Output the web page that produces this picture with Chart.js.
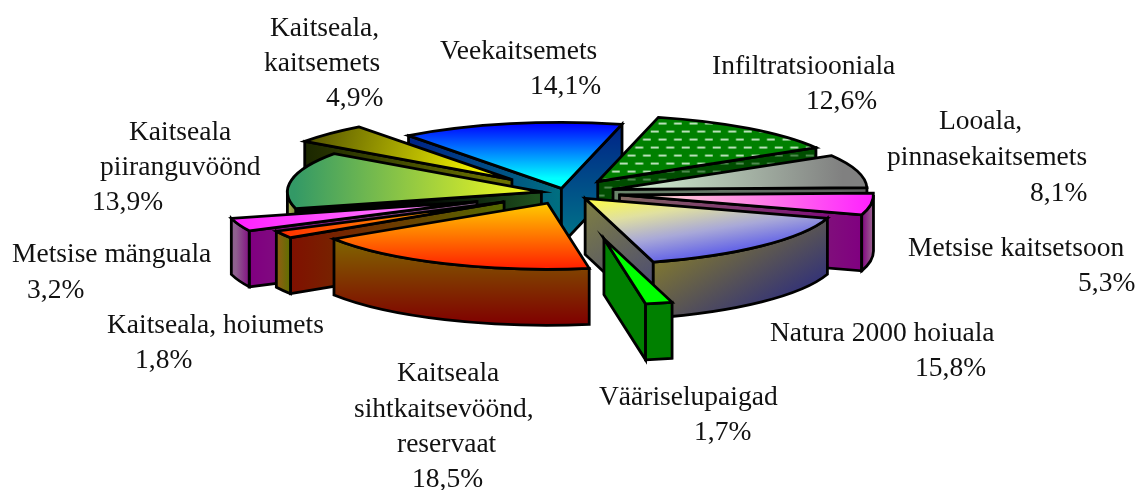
<!DOCTYPE html>
<html>
<head>
<meta charset="utf-8">
<style>
  html, body { margin: 0; padding: 0; background: #fff; }
  canvas { display: block; }
</style>
<script src="https://cdn.jsdelivr.net/npm/chart.js@4"></script>
</head>
<body>
<canvas id="chart" width="1139" height="490"></canvas>
<script>
const categories = [
  ['Veekaitsemets'],
  ['Infiltratsiooniala'],
  ['Looala,', 'pinnasekaitsemets'],
  ['Metsise kaitsetsoon'],
  ['Natura 2000 hoiuala'],
  ['Vääriselupaigad'],
  ['Kaitseala', 'sihtkaitsevöönd,', 'reservaat'],
  ['Kaitseala, hoiumets'],
  ['Metsise mänguala'],
  ['Kaitseala', 'piiranguvöönd'],
  ['Kaitseala,', 'kaitsemets']
];
const values = [14.1, 12.6, 8.1, 5.3, 15.8, 1.7, 18.5, 1.8, 3.2, 13.9, 4.9];

// how far each slice is pulled out of the pie
const explode = [18, 55, 50, 55, 29, 180, 43, 70, 94, 24, 74];

// text position of every label line, the last one is the percentage
const labelPos = [
  [[440, 59], [530, 94]],
  [[712, 74], [806, 109]],
  [[939, 129], [887, 165], [1030, 201]],
  [[908, 256], [1078, 291]],
  [[770, 341], [915, 376]],
  [[599, 405], [694, 440]],
  [[397, 381], [354, 417], [397, 452], [412, 487]],
  [[107, 333], [135, 368]],
  [[12, 262], [27, 298]],
  [[129, 140], [100, 175], [92, 210]],
  [[270, 36], [264, 71], [326, 106]]
];

// gradients: [x0, y0, x1, y1, ...colors], coordinates in px from the slice tip
const topFills = [
  [0, -65, 0, -10, '#0000ff', '#00ffff'],
  null,
  [10, 0, 230, 0, '#d4f4d4', '#808080'],
  [10, 0, 253, 0, '#ffeecc', '#ff20ff'],
  [0, 0, 12, 75, '#ffff40', '#e0e0a0', '#a8a8d8', '#6060e8'],
  [0, 0, 1, 0, '#00ff00', '#00ff00'],
  [0, 0, 0, 65, '#ffcc00', '#ff2000'],
  [-225, 0, 0, 0, '#ff3000', '#ffcc00'],
  [-241, 0, 0, 0, '#ff20ff', '#ffa0ff'],
  [-247, 0, 0, 0, '#339966', '#ffff1a'],
  [-209, -52, -19, -6, '#4d4d00', '#ffff00']
];
const startWalls = [
  [-153, 0, 0, 0, '#002288', '#007080'],
  null, null, null, null, null, null,
  [-213, 0, 0, 0, '#801000', '#556b00'],
  [-225, 0, 0, 0, '#800080', '#806080'],
  [-243, 0, -6, 0, '#000000', '#000000', '#1e501e'],
  [-209, 0, -19, 0, '#1a2600', '#6a7000']
];
const endWalls = [
  [0, -65, 0, 56, '#002288', '#007888'],
  'pattern',
  [0, 0, 253, 0, '#6a856a', '#606060'],
  [0, 0, 242, 0, '#806860', '#800080'],
  [0, 0, 70, 118, '#808040', '#404080'],
  [0, 0, 1, 0, '#008000', '#008000'],
  null, null, null, null, null
];
const outerWalls = [
  null, null, null,
  [242, 0, 253, 0, '#800080', '#9a6090'],
  [70, 62, 130, 162, '#807830', '#2a2a80'],
  [0, 0, 1, 0, '#008000', '#008000'],
  [0, 36, 0, 121, '#806600', '#800000'],
  [-225, 0, -213, 0, '#8a6010', '#5a7000'],
  [-241, 0, -225, 0, '#906090', '#800080'],
  [-253, 0, -243, 0, '#a8b050', '#6a7a30'],
  null
];

const pieX = 565, pieY = 193, tilt = 0.26, depth = 56, pieRadius = 254;

function dashTile(bg, dash) {
  const tile = document.createElement('canvas');
  tile.width = 31;
  tile.height = 16;
  const t = tile.getContext('2d');
  t.fillStyle = bg;
  t.fillRect(0, 0, 31, 16);
  t.fillStyle = dash;
  [[0, 0], [15.5, 0], [7.75, 8], [23.25, 8]].forEach(p => t.fillRect(p[0], p[1], 8, 2));
  return tile;
}

function addStops(g, colors) {
  colors.forEach((c, i) => g.addColorStop(i / (colors.length - 1), c));
  return g;
}

// Top faces are filled by the arc element inside a squashed context, so the
// gradient vector is worked out in the unsquashed space to keep its direction on screen.
function topFill(context) {
  const area = context.chart.chartArea;
  if (!area) return 'transparent';
  const cx = (area.left + area.right) / 2, cy = (area.top + area.bottom) / 2;
  const ctx = context.chart.ctx;
  const def = topFills[context.dataIndex];
  if (!def) {
    const pat = ctx.createPattern(dashTile('#008000', '#b8e0b8'), 'repeat');
    pat.setTransform(new DOMMatrix().translate(cx, cy).scale(1, 1 / tilt).translate(53, -51));
    return pat;
  }
  const a = def[2] - def[0], b = def[3] - def[1];
  const nx = a / tilt, ny = b;
  const s = ((a * a + b * b) / tilt) / (nx * nx + ny * ny);
  const x0 = cx + def[0], y0 = cy + def[1] / tilt;
  return addStops(ctx.createLinearGradient(x0, y0, x0 + s * nx, y0 + s * ny), def.slice(4));
}

function tipOf(el, i) {
  const mid = (el.startAngle + el.endAngle) / 2;
  return { x: pieX + explode[i] * Math.cos(mid), y: pieY + tilt * explode[i] * Math.sin(mid) };
}

function wallFill(ctx, def, tip) {
  if (def === 'pattern') {
    const pat = ctx.createPattern(dashTile('#004d00', '#4f8a4f'), 'repeat');
    pat.setTransform(new DOMMatrix().translate(tip.x + 53, tip.y + 5));
    return pat;
  }
  return addStops(ctx.createLinearGradient(tip.x + def[0], tip.y + def[1], tip.x + def[2], tip.y + def[3]), def.slice(4));
}

function radialWall(ctx, tip, angle, r, fill) {
  const ox = tip.x + r * Math.cos(angle), oy = tip.y + tilt * r * Math.sin(angle);
  ctx.beginPath();
  ctx.moveTo(tip.x, tip.y);
  ctx.lineTo(ox, oy);
  ctx.lineTo(ox, oy + depth);
  ctx.lineTo(tip.x, tip.y + depth);
  ctx.closePath();
  ctx.fillStyle = fill;
  ctx.fill();
  ctx.stroke();
}

function outerWall(ctx, tip, a, b, r, fill) {
  const from = Math.max(a, 0), to = Math.min(b, Math.PI);
  if (to <= from) return;
  ctx.beginPath();
  ctx.ellipse(tip.x, tip.y, r, r * tilt, 0, from, to);
  ctx.ellipse(tip.x, tip.y + depth, r, r * tilt, 0, to, from, true);
  ctx.closePath();
  ctx.fillStyle = fill;
  ctx.fill();
  ctx.stroke();
}

const pie3d = {
  id: 'pie3d',
  beforeDatasetDraw(chart) {
    const ctx = chart.ctx;
    const arcs = chart.getDatasetMeta(0).data;
    const order = arcs.map((el, i) => i).sort((p, q) =>
      Math.sin((arcs[p].startAngle + arcs[p].endAngle) / 2) - Math.sin((arcs[q].startAngle + arcs[q].endAngle) / 2));

    order.forEach(i => {
      const el = arcs[i];
      const tip = tipOf(el, i);
      const r = el.outerRadius;
      ctx.save();
      ctx.strokeStyle = '#000';
      ctx.lineWidth = 2.8;
      ctx.lineJoin = 'miter';
      ctx.lineCap = 'round';
      if (startWalls[i] && Math.cos(el.startAngle) < 0) radialWall(ctx, tip, el.startAngle, r, wallFill(ctx, startWalls[i], tip));
      if (endWalls[i] && Math.cos(el.endAngle) > 0) radialWall(ctx, tip, el.endAngle, r, wallFill(ctx, endWalls[i], tip));
      if (outerWalls[i]) outerWall(ctx, tip, el.startAngle, el.endAngle, r, wallFill(ctx, outerWalls[i], tip));

      // top face comes from the library, squashed into the tilted plane
      ctx.save();
      ctx.translate(tip.x, tip.y);
      ctx.scale(1, tilt);
      ctx.translate(-el.x, -el.y);
      el.draw(ctx);
      ctx.restore();

      // outline without the squash so the line keeps its width
      ctx.beginPath();
      ctx.moveTo(tip.x, tip.y);
      ctx.ellipse(tip.x, tip.y, r, r * tilt, 0, el.startAngle, el.endAngle);
      ctx.closePath();
      ctx.stroke();
      ctx.restore();
    });
    return false;
  },
  afterDraw(chart) {
    const ctx = chart.ctx;
    ctx.save();
    ctx.fillStyle = '#111';
    ctx.font = '27.5px "Liberation Serif"';
    ctx.textBaseline = 'alphabetic';
    categories.forEach((lines, i) => {
      const text = lines.concat(values[i].toFixed(1).replace('.', ',') + '%');
      text.forEach((line, j) => ctx.fillText(line, labelPos[i][j][0], labelPos[i][j][1]));
    });
    ctx.restore();
  }
};

new Chart(document.getElementById('chart'), {
  type: 'pie',
  data: {
    labels: categories,
    datasets: [{
      data: values,
      backgroundColor: topFill,
      borderWidth: 0
    }]
  },
  options: {
    responsive: false,
    animation: false,
    events: [],
    rotation: -37,
    radius: pieRadius,
    plugins: {
      legend: { display: false },
      tooltip: { enabled: false }
    }
  },
  plugins: [pie3d]
});
</script>
</body>
</html>
